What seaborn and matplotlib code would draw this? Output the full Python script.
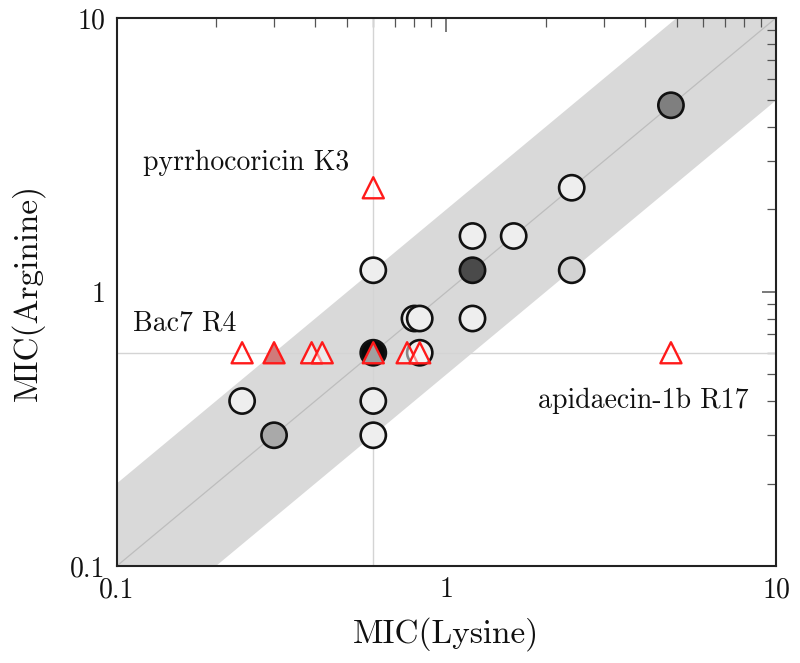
import numpy as np
import pandas as pd
import matplotlib
matplotlib.use("Agg")
import matplotlib.pyplot as plt
import seaborn as sns
from matplotlib.ticker import FixedLocator, FixedFormatter, NullFormatter

# Circle data (MIC lysine, MIC arginine, overlap count)
circ_lys = [0.24, 0.3, 0.6, 0.6, 0.6, 0.6, 0.8, 0.83, 0.83, 1.2, 1.2, 1.2, 1.6, 2.4, 2.4, 4.8]
circ_arg = [0.4, 0.3, 1.2, 0.6, 0.4, 0.3, 0.8, 0.8, 0.6, 1.6, 1.2, 0.8, 1.6, 2.4, 1.2, 4.8]
circ_cnt = ["1", "3", "1", "6", "1", "1", "1", "1", "1", "1", "5", "1", "1", "1", "2", "4"]

# Triangle data (outliers)
tri_lys = [0.24, 0.3, 0.39, 0.42, 0.6, 0.76, 0.83, 0.6, 4.8]
tri_arg = [0.6, 0.6, 0.6, 0.6, 0.6, 0.6, 0.6, 2.4, 0.6]
tri_cnt = ["1", "2", "1", "1", "g", "1", "1", "1", "1"]

labels = ["pyrrhocoricin K3", "Bac7 R4", "apidaecin-1b R17"]
label_x = [0.12, 0.112, 1.89]
label_y = [2.79, 0.726, 0.377]

circ_pal = {"1": "#eeeeee", "2": "#d3d3d3", "3": "#a9a9a9", "4": "#7f7f7f",
            "5": "#4a4a4a", "6": "#0a0a0a"}
tri_pal = {"1": (1, 1, 1, 0.5), "2": "#d07a7a", "g": "#a0a0a0"}

sns.set_theme(style="white")
plt.rcParams["font.family"] = ["cmr10", "DejaVu Serif"]
plt.rcParams["axes.formatter.use_mathtext"] = True

fig = plt.figure(figsize=(8, 6.63), dpi=100)
ax = fig.add_axes([0.146, 0.1463, 0.824, 0.8267])

xs = np.array([0.1, 10])
ax.fill_between(xs, xs / 2, xs * 2, color="#d9d9d9", lw=0, zorder=0)
ax.plot(xs, xs, color="#bdbdbd", lw=0.9, zorder=1)
ax.axvline(0.6, color="#d4d4d4", lw=1, zorder=1)
ax.axhline(0.6, color="#d4d4d4", lw=1, zorder=1)

cdf = pd.DataFrame({"lys": circ_lys, "arg": circ_arg, "cnt": circ_cnt})
sns.scatterplot(data=cdf, x="lys", y="arg", hue="cnt", palette=circ_pal,
                s=330, marker="o", edgecolor="#111111", linewidth=1.9,
                legend=False, ax=ax, zorder=3)

tdf = pd.DataFrame({"lys": tri_lys, "arg": tri_arg, "cnt": tri_cnt})
sns.scatterplot(data=tdf, x="lys", y="arg", hue="cnt", palette=tri_pal,
                s=230, marker="^", edgecolor="#ff1a1a", linewidth=1.7,
                legend=False, ax=ax, zorder=4)

for t, x, y in zip(labels, label_x, label_y):
    ax.text(x, y, t, fontsize=20, color="#111111", zorder=5)

ax.set_xscale("log")
ax.set_yscale("log")
ax.set_xlim(0.1, 10)
ax.set_ylim(0.1, 10)

maj = [0.1, 1, 10]
mino = [m * d for d in (0.1, 1) for m in range(2, 10)]
for axis in (ax.xaxis, ax.yaxis):
    axis.set_major_locator(FixedLocator(maj))
    axis.set_major_formatter(FixedFormatter(["0.1", "1", "10"]))
    axis.set_minor_locator(FixedLocator(mino))
    axis.set_minor_formatter(NullFormatter())

ax.tick_params(which="both", direction="in", top=True, right=True,
               color="#555555", labelsize=20, labelcolor="#111111")
ax.tick_params(which="major", length=10, width=1.1, pad=8)
ax.tick_params(which="minor", length=6.5, width=0.9)

for sp in ax.spines.values():
    sp.set_color("#222222")
    sp.set_linewidth(1.5)

ax.set_xlabel("MIC(Lysine)", fontsize=24, color="#111111", labelpad=10)
ax.set_ylabel("MIC(Arginine)", fontsize=24, color="#111111", labelpad=18)

fig.savefig("out.png", dpi=100)
